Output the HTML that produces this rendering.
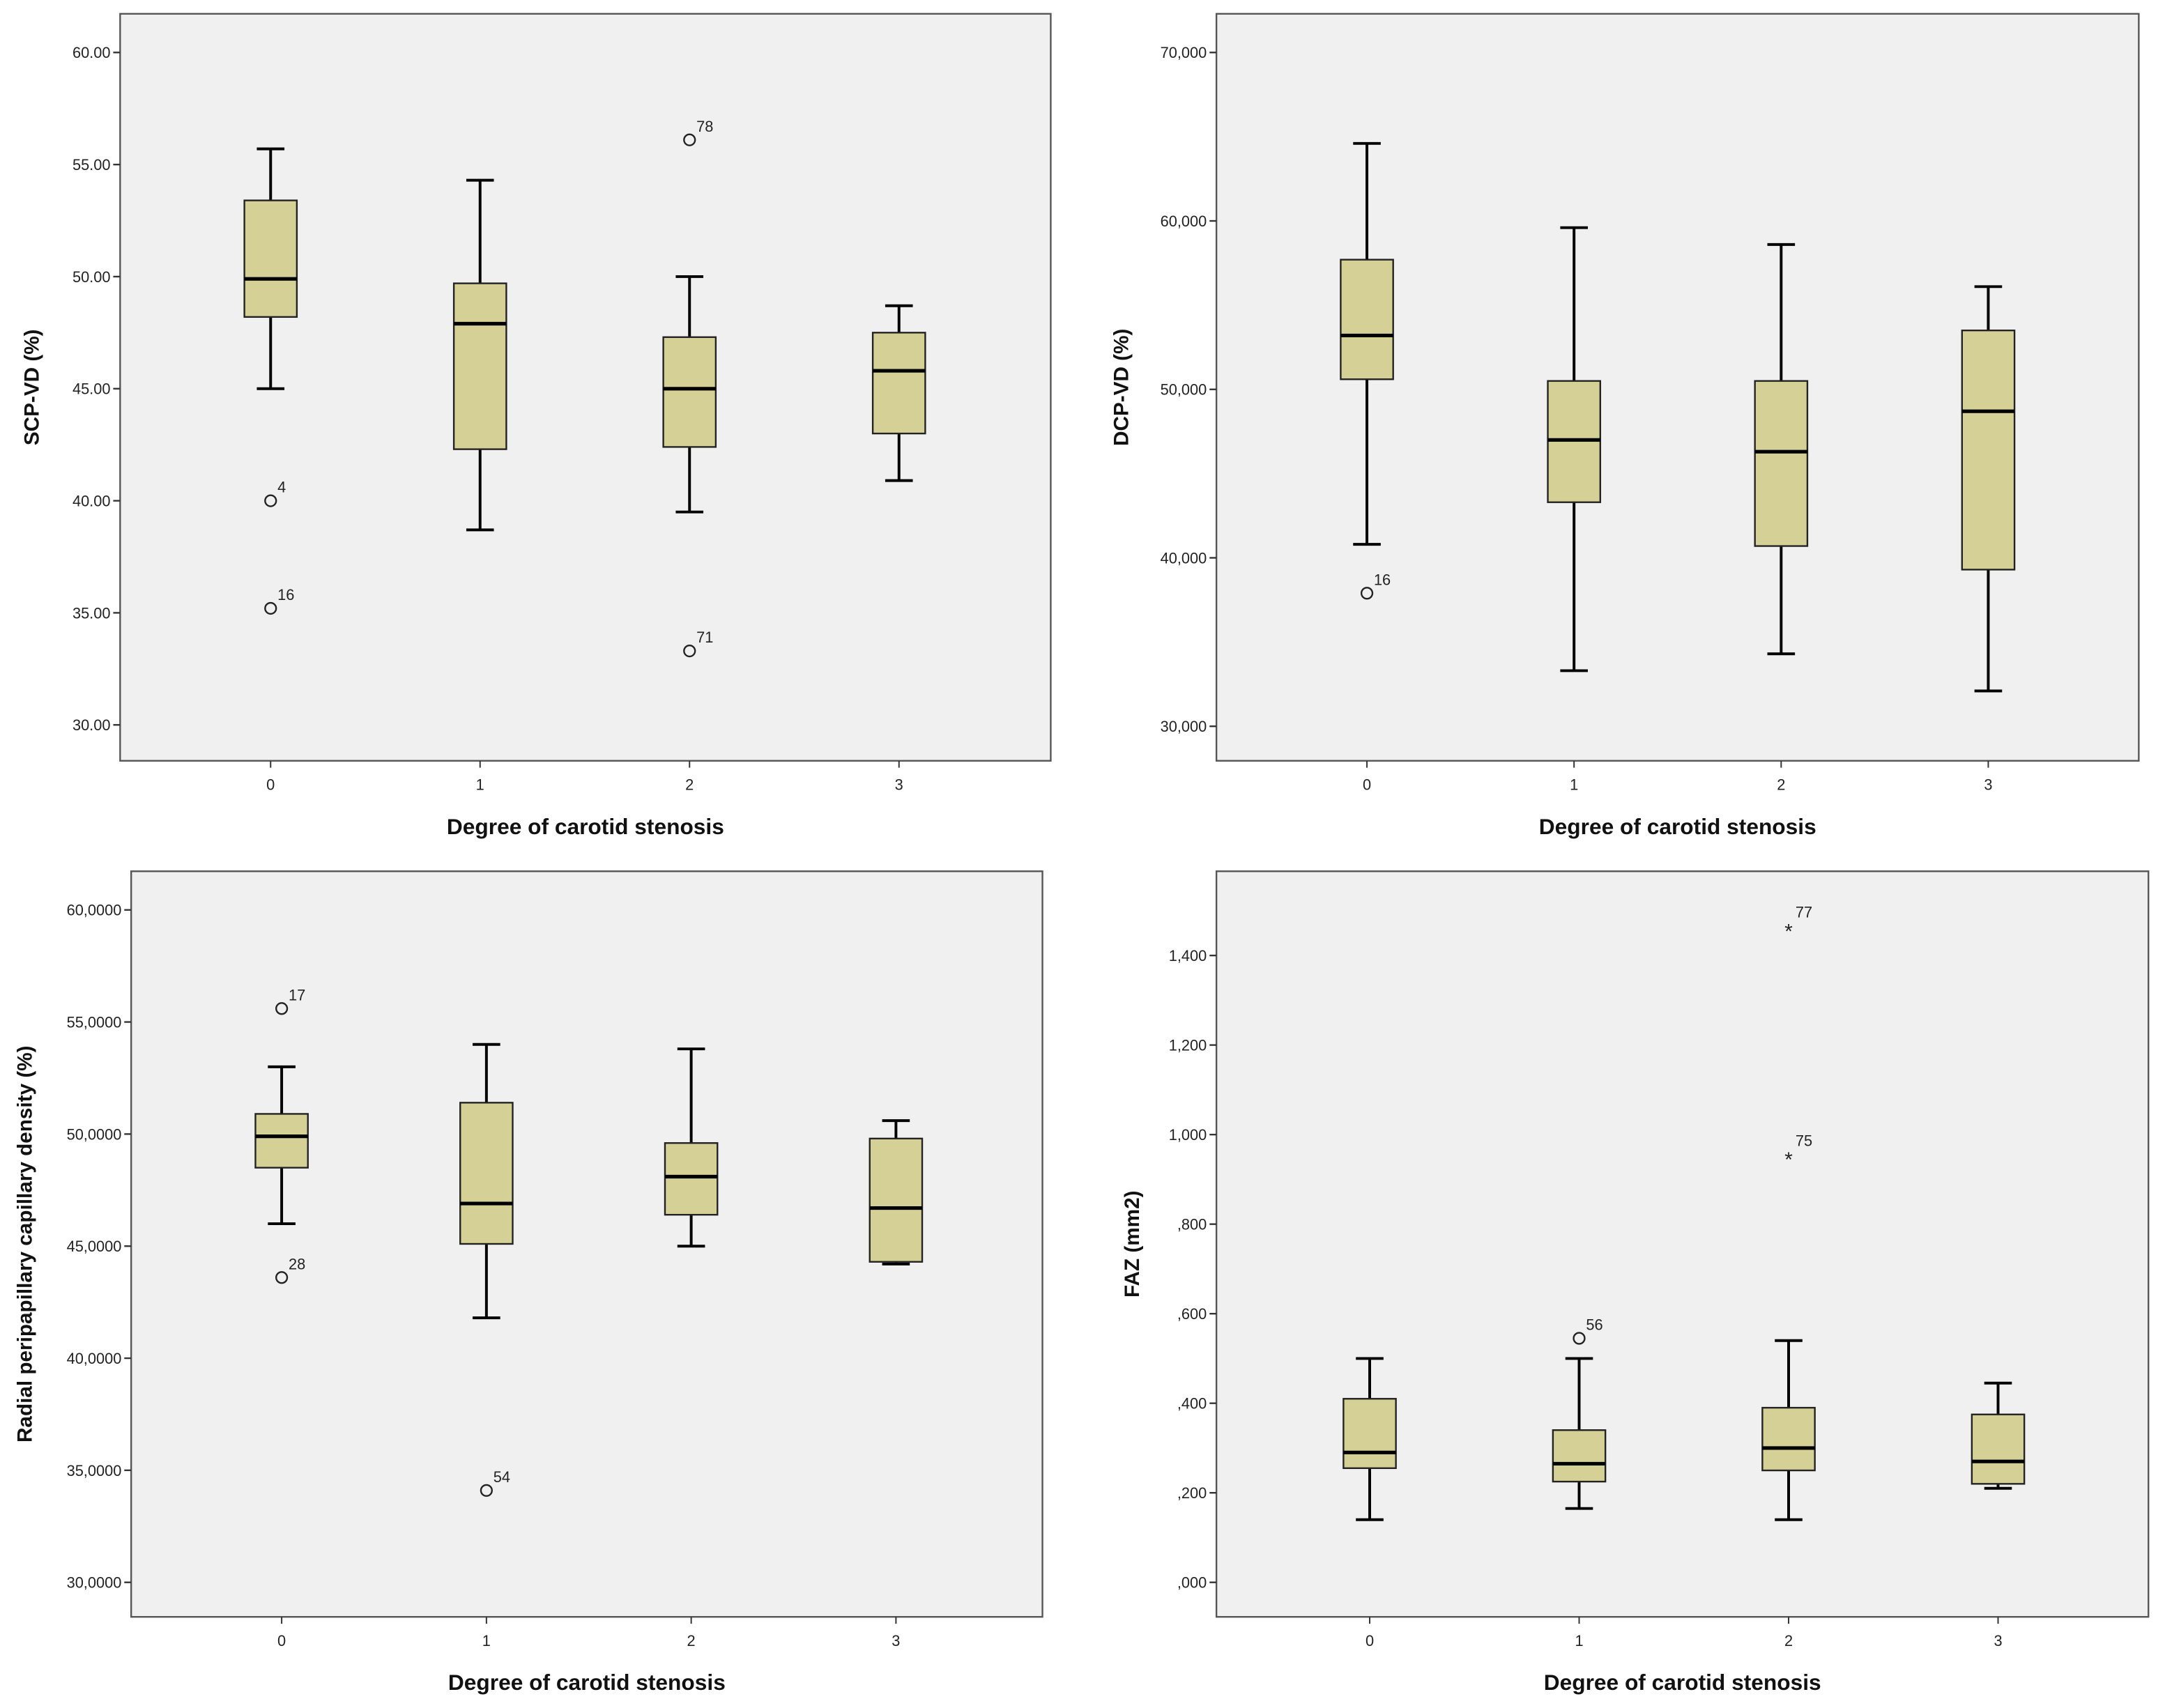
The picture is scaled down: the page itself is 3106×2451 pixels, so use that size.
<!DOCTYPE html>
<html><head><meta charset="utf-8"><style>
html,body{margin:0;padding:0;background:#fff;}
svg{display:block;}
text{font-family:"Liberation Sans",sans-serif;}
</style></head><body>
<svg id="chart" width="3106" height="2451" viewBox="0 0 1568 1237" preserveAspectRatio="none" xmlns="http://www.w3.org/2000/svg"></svg>
<script>
const categories = ["0","1","2","3"];
// SCP-VD: [low, q1, median, q3, high]
const scpStats = [[45.0,48.2,49.9,53.4,55.7],[38.7,42.3,47.9,49.7,54.3],[39.5,42.4,45.0,47.3,50.0],[40.9,43.0,45.8,47.5,48.7]];
const scpOutliers = [[0,40.0,"4"],[0,35.2,"16"],[2,56.1,"78"],[2,33.3,"71"]];
const scpTicks = [30,35,40,45,50,55,60];
const scpTickLabels = ["30.00","35.00","40.00","45.00","50.00","55.00","60.00"];
// DCP-VD
const dcpStats = [[40.8,50.6,53.2,57.7,64.6],[33.3,43.3,47.0,50.5,59.6],[34.3,40.7,46.3,50.5,58.6],[32.1,39.3,48.7,53.5,56.1]];
const dcpOutliers = [[0,37.9,"16"]];
const dcpTicks = [30,40,50,60,70];
const dcpTickLabels = ["30,000","40,000","50,000","60,000","70,000"];
// RPC density
const rpcStats = [[46.0,48.5,49.9,50.9,53.0],[41.8,45.1,46.9,51.4,54.0],[45.0,46.4,48.1,49.6,53.8],[44.2,44.3,46.7,49.8,50.6]];
const rpcOutliers = [[0,55.6,"17"],[0,43.6,"28"],[1,34.1,"54"]];
const rpcTicks = [30,35,40,45,50,55,60];
const rpcTickLabels = ["30,0000","35,0000","40,0000","45,0000","50,0000","55,0000","60,0000"];
// FAZ
const fazStats = [[0.14,0.255,0.29,0.41,0.50],[0.165,0.225,0.265,0.34,0.50],[0.14,0.25,0.30,0.39,0.54],[0.21,0.22,0.27,0.375,0.445]];
const fazOutliers = [[1,0.545,"56"]];
const fazExtremes = [[2,1.46,"77"],[2,0.95,"75"]];
const fazTicks = [0,0.2,0.4,0.6,0.8,1.0,1.2,1.4];
const fazTickLabels = [",000",",200",",400",",600",",800","1,000","1,200","1,400"];

const NS="http://www.w3.org/2000/svg";
const svg=document.getElementById('chart');
function mk(tag,attrs,parent){const e=document.createElementNS(NS,tag);for(const k in attrs)e.setAttribute(k,attrs[k]);(parent||svg).appendChild(e);return e;}

function panel(p){
  const g=mk('g',{});
  
  
  const y=v=>p.yA+(v-p.vA)*(p.yB-p.yA)/(p.vB-p.vA);
  const x=i=>p.cx0+i*p.dx;
  const fr=mk('rect',{x:p.L,y:p.T,width:p.R-p.L,height:p.B-p.T,fill:'#f0f0f0',stroke:'#555','stroke-width':1.2},g);
  
  
  p.ticks.forEach((t,i)=>{
    mk('line',{x1:p.L-5,x2:p.L,y1:y(t),y2:y(t),stroke:'#333','stroke-width':1.2},g);
    const tx=mk('text',{x:p.L-7,y:y(t)+4,'font-size':11,'text-anchor':'end',fill:'#222'},g);
    tx.textContent=p.tickLabels[i];
    
    
  });
  categories.forEach((c,i)=>{
    mk('line',{x1:x(i),x2:x(i),y1:p.B,y2:p.B+5,stroke:'#333','stroke-width':1},g);
    const tx=mk('text',{x:x(i),y:p.B+21,'font-size':11,'text-anchor':'middle',fill:'#222'},g);
    tx.textContent=c;
    
    
  });
  p.stats.forEach((s,i)=>{
    const cx=x(i),hw=19;
    const bg=mk('g',{},g);
    
    
    mk('line',{x1:cx,x2:cx,y1:y(s[0]),y2:y(s[1]),stroke:'#000','stroke-width':2},bg);
    mk('line',{x1:cx,x2:cx,y1:y(s[3]),y2:y(s[4]),stroke:'#000','stroke-width':2},bg);
    mk('line',{x1:cx-10,x2:cx+10,y1:y(s[0]),y2:y(s[0]),stroke:'#000','stroke-width':2},bg);
    mk('line',{x1:cx-10,x2:cx+10,y1:y(s[4]),y2:y(s[4]),stroke:'#000','stroke-width':2},bg);
    mk('rect',{x:cx-hw,y:y(s[3]),width:2*hw,height:y(s[1])-y(s[3]),fill:'#d5d096',stroke:'#222','stroke-width':1.2},bg);
    mk('line',{x1:cx-hw,x2:cx+hw,y1:y(s[2]),y2:y(s[2]),stroke:'#000','stroke-width':2.6},bg);
  });
  (p.outliers||[]).forEach(o=>{
    const c=mk('circle',{cx:x(o[0]),cy:y(o[1]),r:4,fill:'none',stroke:'#222','stroke-width':1.2},g);
    
    
    const t=mk('text',{x:x(o[0])+5,y:y(o[1])-6,'font-size':11,fill:'#222'},g);
    t.textContent=o[2];
  });
  (p.extremes||[]).forEach(o=>{
    const s=mk('text',{x:x(o[0]),y:y(o[1])+7,'font-size':15,'text-anchor':'middle',fill:'#222'},g);
    s.textContent='*';
    
    
    const t=mk('text',{x:x(o[0])+5,y:y(o[1])-8,'font-size':11,fill:'#222'},g);
    t.textContent=o[2];
  });
  const xt=mk('text',{x:(p.L+p.R)/2,y:p.B+53,'font-size':16,'font-weight':'bold','text-anchor':'middle',fill:'#111'},g);
  xt.textContent='Degree of carotid stenosis';
  
  
  const yt=mk('text',{x:0,y:0,'font-size':15,'font-weight':'bold','text-anchor':'middle',fill:'#111',transform:`translate(${p.ytx},${(p.T+p.B)/2}) rotate(-90)`},g);
  yt.textContent=p.ytitle;
  
  
}

panel({name:'scp-vd-panel',L:87,R:761,T:10,B:551,vA:60,yA:38,vB:30,yB:525,cx0:196,dx:151.7,stats:scpStats,outliers:scpOutliers,ticks:scpTicks,tickLabels:scpTickLabels,ytitle:'SCP-VD (%)',ytx:28});
panel({name:'dcp-vd-panel',L:881,R:1549,T:10,B:551,vA:70,yA:38,vB:30,yB:526,cx0:990,dx:150,stats:dcpStats,outliers:dcpOutliers,ticks:dcpTicks,tickLabels:dcpTickLabels,ytitle:'DCP-VD (%)',ytx:817});
panel({name:'rpc-density-panel',L:95,R:755,T:631,B:1171,vA:60,yA:659,vB:30,yB:1146,cx0:204,dx:148.3,stats:rpcStats,outliers:rpcOutliers,ticks:rpcTicks,tickLabels:rpcTickLabels,ytitle:'Radial peripapillary capillary density (%)',ytx:23});
panel({name:'faz-panel',L:881,R:1556,T:631,B:1171,vA:1.4,yA:692,vB:0,yB:1146,cx0:992,dx:151.7,stats:fazStats,outliers:fazOutliers,extremes:fazExtremes,ticks:fazTicks,tickLabels:fazTickLabels,ytitle:'FAZ (mm2)',ytx:825});
</script>
</body></html>
